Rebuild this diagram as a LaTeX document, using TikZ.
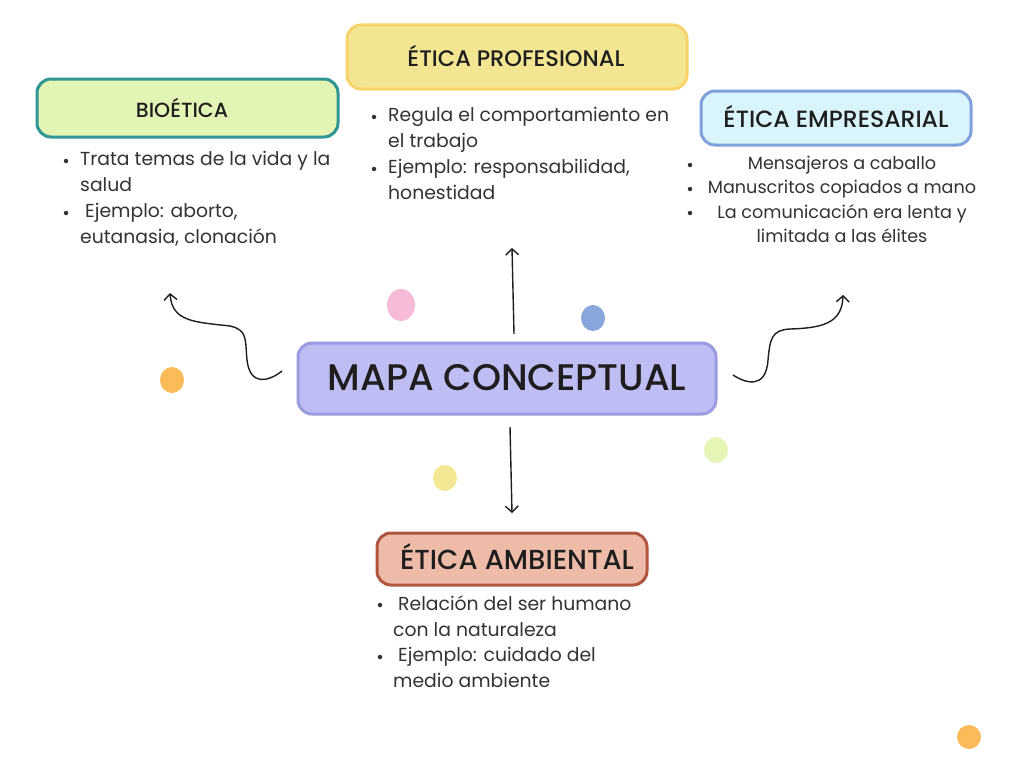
\documentclass[tikz,border=0pt]{standalone}
\usepackage{fontspec}
\setmainfont{Poppins}
\newfontfamily\titlefont{Poppins Medium}
\usetikzlibrary{arrows.meta}
\definecolor{ink}{HTML}{1E1E1E}
\definecolor{body}{HTML}{333333}
\definecolor{bioFill}{HTML}{E3F5B5}
\definecolor{bioLine}{HTML}{2E9494}
\definecolor{proFill}{HTML}{F3E693}
\definecolor{proLine}{HTML}{F8D26A}
\definecolor{empFill}{HTML}{DAF4FB}
\definecolor{empLine}{HTML}{7FA0DB}
\definecolor{mapFill}{HTML}{BEBEF5}
\definecolor{mapLine}{HTML}{9B9BE0}
\definecolor{ambFill}{HTML}{EDBBA8}
\definecolor{ambLine}{HTML}{B0553F}
\definecolor{dotPink}{HTML}{F6BBD6}
\definecolor{dotBlue}{HTML}{8AA7DC}
\definecolor{dotOrange}{HTML}{FDBA58}
\definecolor{dotYellow}{HTML}{F3E994}
\definecolor{dotGreen}{HTML}{E4F5B6}
\tikzset{
  box/.style={line width=3pt, rounded corners=14pt},
  title/.style={text=ink, anchor=center, inner sep=0pt},
  bodytext/.style={text=body, anchor=north west, align=left, inner sep=0pt, font=\fontsize{18.8}{26}\selectfont},
  centertext/.style={text=body, anchor=north, align=center, inner sep=0pt, font=\fontsize{17.6}{24.5}\selectfont},
  bul/.style={circle, fill=body, inner sep=0pt, minimum size=4.5pt},
  conn/.style={line width=1.4pt, draw=ink, -{Straight Barb[length=6pt,width=13pt]}},
}
\begin{document}
\begin{tikzpicture}[x=1pt,y=-1pt]
\useasboundingbox[fill=white] (0,0) rectangle (1024,768);

% dots
\fill[dotPink] (401,305) ellipse [x radius=14, y radius=16];
\fill[dotBlue] (593,318) ellipse [x radius=12, y radius=13];
\fill[dotOrange] (172,380) ellipse [x radius=12, y radius=13];
\fill[dotYellow] (445,478) ellipse [x radius=12, y radius=13];
\fill[dotGreen] (716,450) ellipse [x radius=12, y radius=13];
\fill[dotOrange] (969,737) ellipse [x radius=12, y radius=12];

% boxes
\draw[box, fill=bioFill, draw=bioLine] (37,79) rectangle (338,137);
\node[title, font=\titlefont\fontsize{20.5}{22}\selectfont] (bio) at (182,108) {BIOÉTICA};

\draw[box, fill=proFill, draw=proLine] (347,25) rectangle (687,89);
\node[title, font=\titlefont\fontsize{22.5}{24}\selectfont] (pro) at (516,56) {ÉTICA PROFESIONAL};

\draw[box, fill=empFill, draw=empLine] (701,91) rectangle (971,145);
\node[title, font=\titlefont\fontsize{23.5}{25}\selectfont] (emp) at (836,117) {ÉTICA EMPRESARIAL};

\draw[box, fill=mapFill, draw=mapLine] (298,343) rectangle (716,414);
\node[title, font=\titlefont\fontsize{37}{40}\selectfont] (map) at (507,378) {MAPA CONCEPTUAL};

\draw[box, fill=ambFill, draw=ambLine] (377,533) rectangle (647,585);
\node[title, font=\titlefont\fontsize{27.5}{29}\selectfont] (amb) at (517,557) {ÉTICA AMBIENTAL};

% bioetica bullets
\node[bul] (b1) at (66,161) {};
\node[bodytext] (bt1) at (80,151) {Trata temas de la vida y la\\salud};
\node[bul] (b2) at (66,213) {};
\node[bodytext] (bt2) at (80,203) {\ Ejemplo: aborto,\\eutanasia, clonación};

% profesional bullets
\node[bul] (p1) at (374,117) {};
\node[bodytext] (pt1) at (388,107) {Regula el comportamiento en\\el trabajo};
\node[bul] (p2) at (374,169) {};
\node[bodytext] (pt2) at (388,159) {Ejemplo: responsabilidad,\\honestidad};

% empresarial bullets
\node[bul] (e1) at (690,165) {};
\node[centertext] (et1) at (842,156) {Mensajeros a caballo};
\node[bul] (e2) at (690,189) {};
\node[centertext] (et2) at (842,180) {Manuscritos copiados a mano};
\node[bul] (e3) at (690,213) {};
\node[centertext] (et3) at (842,204) {La comunicación era lenta y\\limitada a las élites};

% ambiental bullets
\node[bul] (a1) at (380,605) {};
\node[bodytext] (at1) at (393,595) {\ Relación del ser humano\\con la naturaleza};
\node[bul] (a2) at (380,657) {};
\node[bodytext] (at2) at (393,647) {\ Ejemplo: cuidado del\\medio ambiente};

% connectors
\coordinate (upS) at (514,334);
\coordinate (upE) at (512,248);
\coordinate (dnS) at (510,427);
\coordinate (dnE) at (512,513);
\coordinate (lS) at (282,371);
\coordinate (lE) at (170,293);
\coordinate (rS) at (733,375);
\coordinate (rE) at (843,295);
\draw[conn] (upS) -- (upE);
\draw[conn] (dnS) -- (dnE);
\draw[conn] (lS) .. controls (268,382) and (250,386) .. (247,360)
  .. controls (245,340) and (248,330) .. (230,326)
  .. controls (195,322) and (172,322) .. (lE);
\draw[conn] (rS) .. controls (745,383) and (766,390) .. (768,360)
  .. controls (770,338) and (772,330) .. (790,329)
  .. controls (825,328) and (842,322) .. (rE);
\end{tikzpicture}
\end{document}
